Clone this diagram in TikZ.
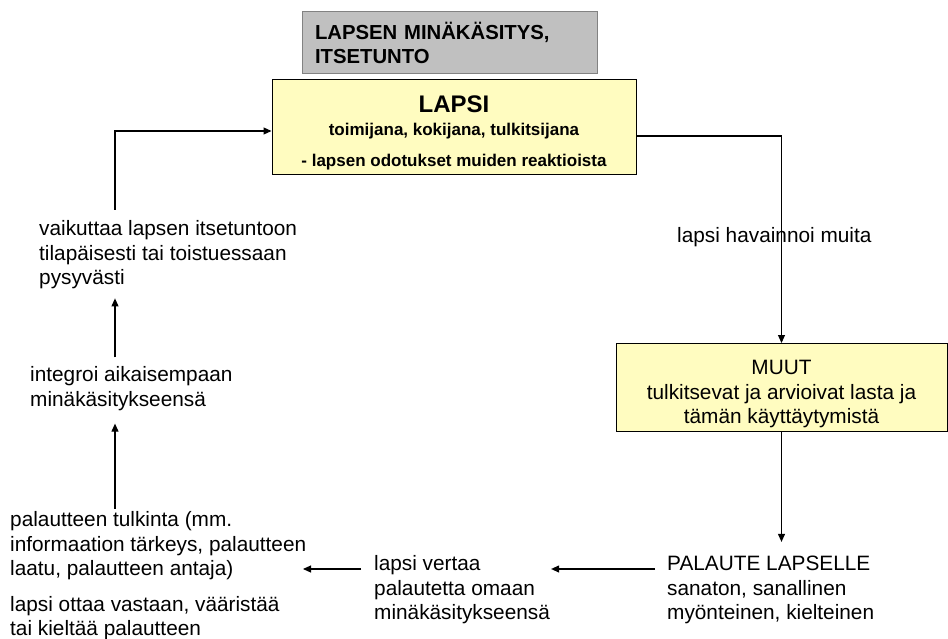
\documentclass[tikz,border=0pt]{standalone}
\usepackage{fontspec}
\setmainfont{Liberation Sans}
\usetikzlibrary{arrows.meta}
\usetikzlibrary{positioning}
\definecolor{boxyellow}{RGB}{255,252,192}
\definecolor{boxgray}{RGB}{192,192,192}
\definecolor{grayline}{RGB}{130,130,130}

\begin{document}
\begin{tikzpicture}[x=1pt, y=-1pt,
    txt/.style={font=\fontsize{20.8}{24.5}\selectfont, align=left, inner sep=0pt, anchor=west},
    arr/.style={-{Triangle[length=8pt,width=7pt]}, line width=1.1pt}]
  \useasboundingbox (0,0) rectangle (948,639);
  \coordinate (col) at (115,0);
  % boxes
  \node[draw=grayline, line width=1pt, fill=boxgray, minimum width=295pt, minimum height=62pt,
        text width=269pt, align=left, inner xsep=13pt, font=\bfseries\fontsize{20.3}{23.5}\selectfont]
        (itsetunto) at (449.5,43) {LAPSEN MINÄKÄSITYS,\\ITSETUNTO};
  \node[draw, line width=1pt, fill=boxyellow, minimum width=364pt, minimum height=95pt, align=center,
        font=\bfseries\fontsize{17}{23}\selectfont]
        (lapsi) at (454,127.5) {\rule{0pt}{27pt}{\fontsize{24}{24}\selectfont LAPSI}\\toimijana, kokijana, tulkitsijana\\[8pt]- lapsen odotukset muiden reaktioista};
  \node[draw, line width=1pt, fill=boxyellow, minimum width=331pt, minimum height=86pt, align=center,
        font=\fontsize{20.8}{24.5}\selectfont]
        (muut) at (781.5,387.5) {\rule{0pt}{28pt}MUUT\\tulkitsevat ja arvioivat lasta ja\\tämän käyttäytymistä};
  % texts
  \node[txt] (havainnoi) at (677,237) {lapsi havainnoi muita};
  \node[txt] (palaute) at (667,590) {PALAUTE LAPSELLE\\sanaton, sanallinen\\myönteinen, kielteinen};
  \node[txt] (vertaa) at (374,590) {lapsi vertaa\\palautetta omaan\\minäkäsitykseensä};
  \node[txt] (tulkinta) at (10,546) {palautteen tulkinta (mm.\\informaation tärkeys, palautteen\\laatu, palautteen antaja)};
  \node[txt] (ottaa) at (10,618) {lapsi ottaa vastaan, vääristää\\tai kieltää palautteen};
  \node[txt] (integroi) at (30,388.5) {integroi aikaisempaan\\minäkäsitykseensä};
  \node[txt] (vaikuttaa) at (39,255) {vaikuttaa lapsen itsetuntoon\\tilapäisesti tai toistuessaan\\pysyvästi};
  % connectors
  \draw[arr] ([yshift=-8.5pt]lapsi.east) -| (muut.north);
  \draw[arr, shorten >=14pt] (muut.south) -- (muut.south |- palaute.north);
  \draw[arr] ([shift={(-12pt,21pt)}]palaute.west) -- ([shift={(1pt,21pt)}]vertaa.east);
  \draw[arr] ([shift={(-13pt,21pt)}]vertaa.west) -- ([shift={(-71pt,21pt)}]vertaa.west);
  \draw[arr, shorten <=3pt, shorten >=13pt] (tulkinta.north -| col) -- (integroi.south -| col);
  \draw[arr, shorten <=9pt, shorten >=9pt] (integroi.north -| col) -- (vaikuttaa.south -| col);
  \draw[arr, shorten <=11pt] (vaikuttaa.north -| col) |- ([yshift=-3.5pt]lapsi.west);
\end{tikzpicture}
\end{document}
